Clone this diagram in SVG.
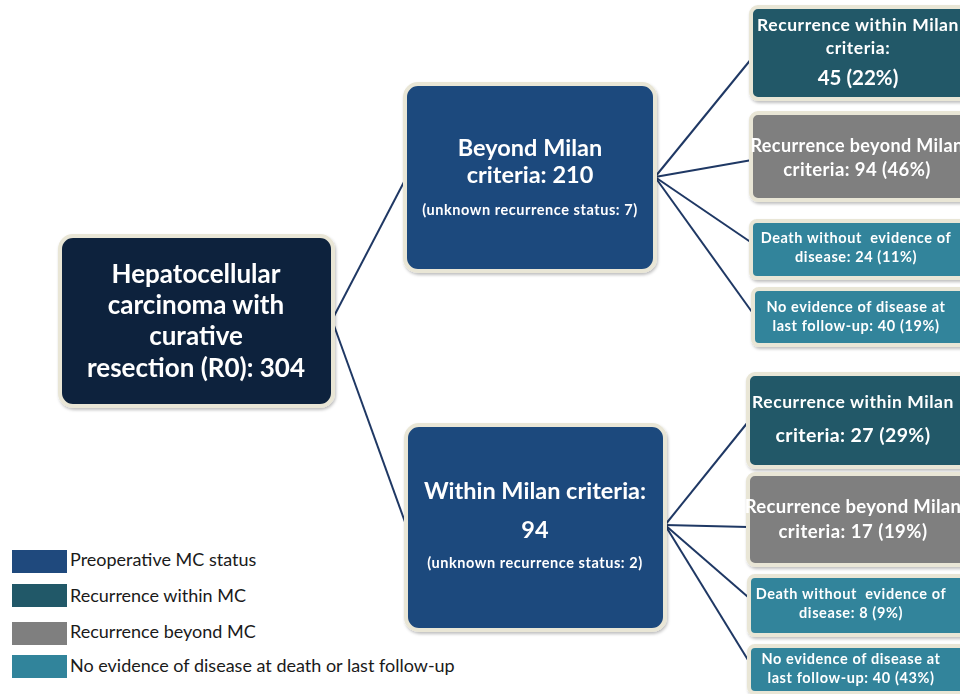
<svg xmlns="http://www.w3.org/2000/svg" width="960" height="694" viewBox="0 0 960 694">
<style>
text{font-family:Lato,"Open Sans","Liberation Sans",sans-serif;font-weight:700;fill:#ffffff;text-anchor:middle}
.box{stroke:#e9e6d6;stroke-width:4}
.root{fill:#10243e}
.pre{fill:#1f497d}
.rw{fill:#215868}
.rb{fill:#7f7f7f}
.ne{fill:#31849b}
.conn line{stroke:#1f3864;stroke-width:2}
.leg text{font-weight:400;fill:#1a1a1a;text-anchor:start;font-size:18px}
.s{font-size:14.5px;letter-spacing:0.55px}
.m{font-size:17.5px;letter-spacing:0.55px}
.t{font-size:14.5px;letter-spacing:0.6px}
</style>
<defs>
<filter id="sh" x="-10%" y="-10%" width="120%" height="130%">
<feDropShadow dx="1" dy="2" stdDeviation="1.5" flood-color="#000" flood-opacity="0.25"/>
</filter>
</defs>
<rect width="960" height="694" fill="#ffffff"/>
<g class="conn">
<line x1="332" y1="320" x2="405" y2="180"/>
<line x1="332" y1="320" x2="405" y2="522"/>
<line x1="655" y1="177" x2="752" y2="58"/>
<line x1="655" y1="177" x2="752" y2="160"/>
<line x1="655" y1="177" x2="752" y2="243"/>
<line x1="655" y1="177" x2="752" y2="312"/>
<line x1="665" y1="525" x2="748" y2="422"/>
<line x1="665" y1="525" x2="748" y2="527"/>
<line x1="665" y1="525" x2="748" y2="597"/>
<line x1="665" y1="525" x2="748" y2="660"/>
</g>
<g id="root" filter="url(#sh)">
<rect class="box root" x="60" y="236" width="273" height="170" rx="13"/>
<text font-size="26" x="196" y="283">Hepatocellular</text>
<text font-size="26" x="196" y="314">carcinoma with</text>
<text font-size="26" x="196" y="345">curative</text>
<text font-size="26" x="196" y="377">resection (R0): 304</text>
</g>
<g id="beyond" filter="url(#sh)">
<rect class="box pre" x="405" y="84" width="250" height="187" rx="13"/>
<text font-size="23.5" x="530" y="156">Beyond Milan</text>
<text font-size="23.5" x="530" y="183">criteria: 210</text>
<text class="s" x="530" y="215">(unknown recurrence status: 7)</text>
</g>
<g id="within" filter="url(#sh)">
<rect class="box pre" x="406" y="425" width="259" height="205" rx="13"/>
<text font-size="23.5" x="535" y="499">Within Milan criteria:</text>
<text font-size="23.5" x="535" y="538">94</text>
<text class="s" x="535" y="568">(unknown recurrence status: 2)</text>
</g>
<g id="b-rw" filter="url(#sh)">
<rect class="box rw" x="751" y="7" width="230" height="92" rx="7"/>
<text class="m" x="858" y="31">Recurrence within Milan</text>
<text class="m" x="858" y="54">criteria:</text>
<text font-size="20.5" x="858" y="85">45 (22%)</text>
</g>
<g id="b-rb" filter="url(#sh)">
<rect class="box rb" x="751" y="113" width="230" height="87" rx="7"/>
<text font-size="18" letter-spacing="0.4" x="857" y="152">Recurrence beyond Milan</text>
<text font-size="18.5" letter-spacing="0.4" x="857" y="176">criteria: 94 (46%)</text>
</g>
<g id="b-d" filter="url(#sh)">
<rect class="box ne" x="751" y="221" width="230" height="57" rx="6"/>
<text class="t" x="856" y="243" xml:space="preserve">Death without  evidence of</text>
<text class="t" x="856" y="262">disease: 24 (11%)</text>
</g>
<g id="b-ne" filter="url(#sh)">
<rect class="box ne" x="753" y="289" width="230" height="56" rx="6"/>
<text class="t" x="856" y="312">No evidence of disease at</text>
<text class="t" x="856" y="331">last follow-up: 40 (19%)</text>
</g>
<g id="w-rw" filter="url(#sh)">
<rect class="box rw" x="748" y="374" width="230" height="93" rx="7"/>
<text class="m" x="853" y="408">Recurrence within Milan</text>
<text font-size="19.5" letter-spacing="0.4" x="853" y="442">criteria: 27 (29%)</text>
</g>
<g id="w-rb" filter="url(#sh)">
<rect class="box rb" x="748" y="474" width="230" height="91" rx="7"/>
<text font-size="18.5" letter-spacing="0.3" x="853" y="513">Recurrence beyond Milan</text>
<text font-size="18.5" letter-spacing="0.5" x="853" y="538">criteria: 17 (19%)</text>
</g>
<g id="w-d" filter="url(#sh)">
<rect class="box ne" x="749" y="576" width="230" height="59" rx="6"/>
<text class="t" x="851" y="599" xml:space="preserve">Death without  evidence of</text>
<text class="t" x="851" y="618">disease: 8 (9%)</text>
</g>
<g id="w-ne" filter="url(#sh)">
<rect class="box ne" x="749" y="646" width="230" height="47" rx="6"/>
<text class="t" x="851" y="664">No evidence of disease at</text>
<text class="t" x="851" y="683">last follow-up: 40 (43%)</text>
</g>
<g id="legend" class="leg">
<rect x="12" y="550" width="55" height="23" fill="#1f497d"/>
<text x="70" y="566">Preoperative MC status</text>
<rect x="12" y="584" width="55" height="23" fill="#215868"/>
<text x="70" y="602">Recurrence within MC</text>
<rect x="12" y="622" width="55" height="23" fill="#7f7f7f"/>
<text x="70" y="638">Recurrence beyond MC</text>
<rect x="12" y="655" width="55" height="23" fill="#31849b"/>
<text x="70" y="672">No evidence of disease at death or last follow-up</text>
</g>
</svg>
